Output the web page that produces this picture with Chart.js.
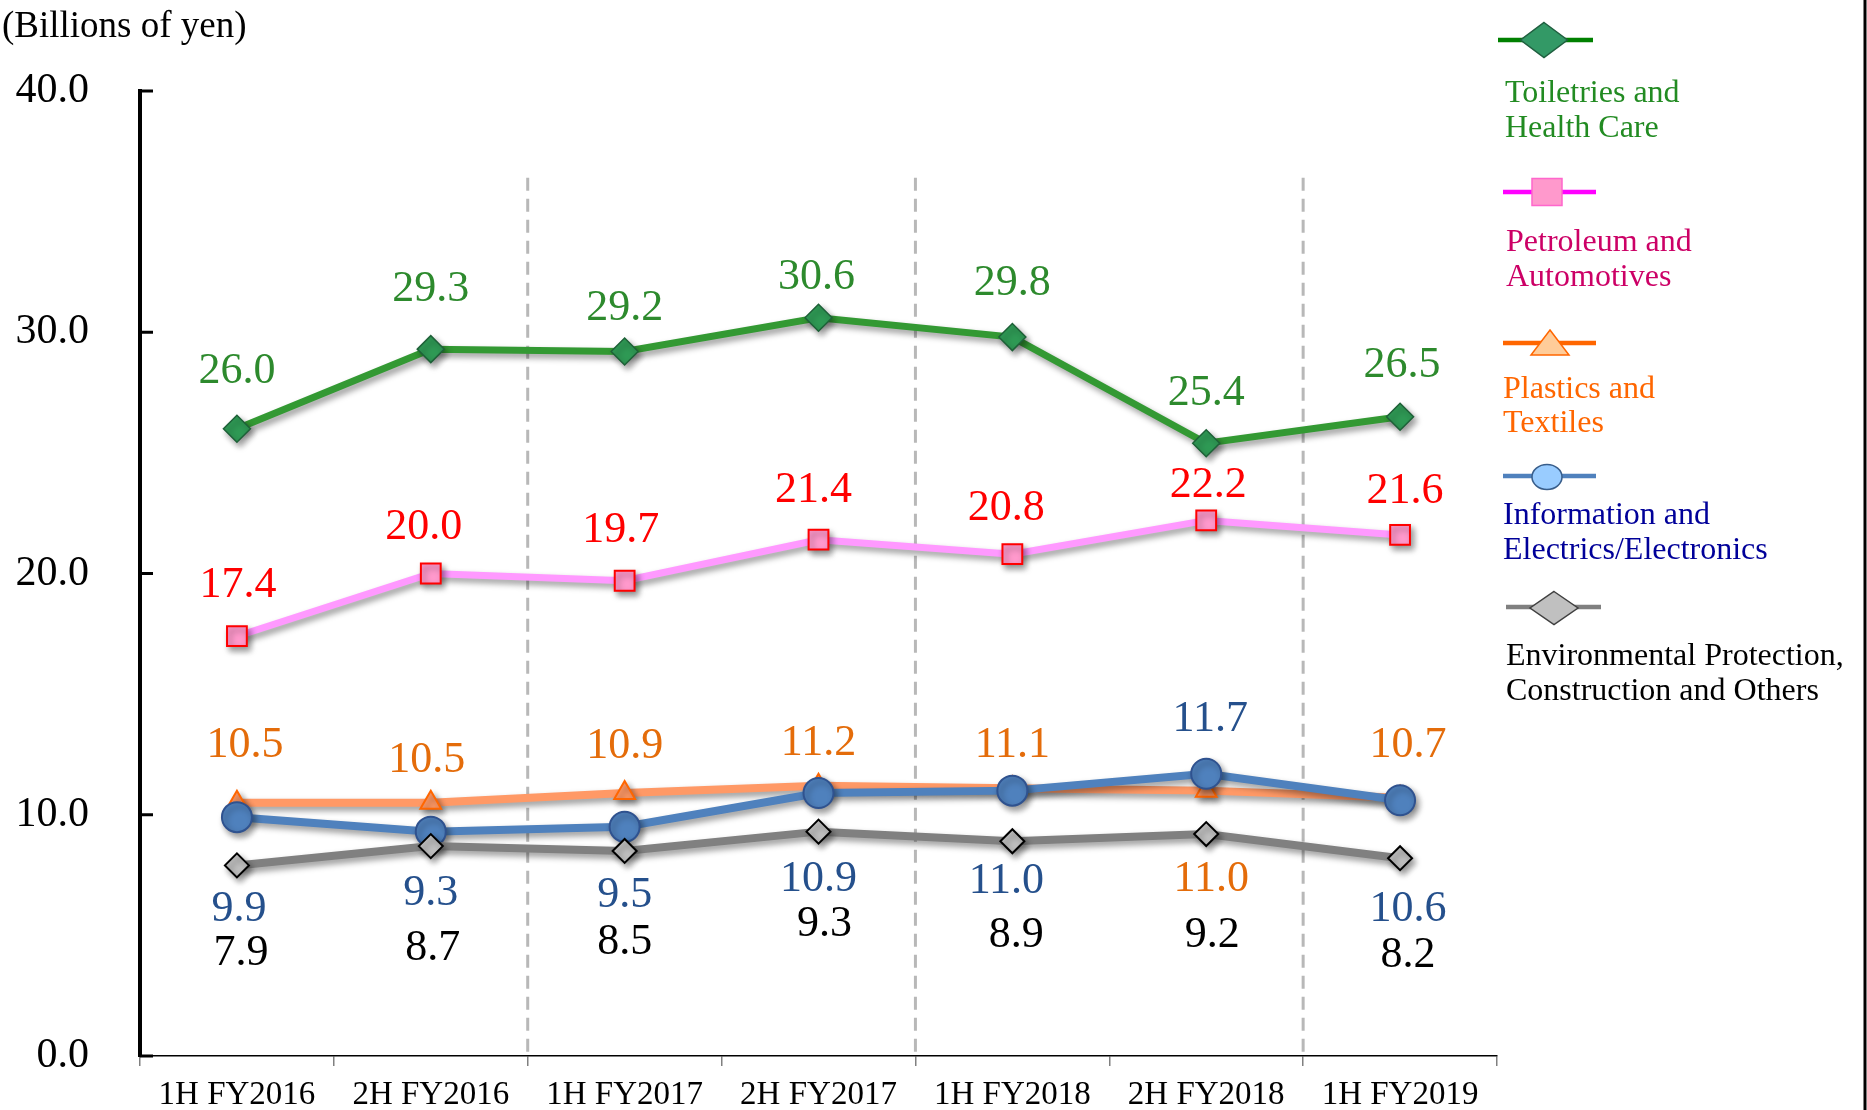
<!DOCTYPE html>
<html><head><meta charset="utf-8">
<script src="https://cdn.jsdelivr.net/npm/chart.js@4/dist/chart.umd.min.js"></script>
<style>html,body{margin:0;padding:0;background:#fff;}#wrap{width:1867px;height:1110px;position:relative;}</style>
</head><body><div id="wrap"><canvas id="c" width="1867" height="1110"></canvas></div>
<script>
// ---- data ----
const categories = ['1H FY2016','2H FY2016','1H FY2017','2H FY2017','1H FY2018','2H FY2018','1H FY2019'];
const toiletries    = [26.0, 29.3, 29.2, 30.6, 29.8, 25.4, 26.5];
const petroleum     = [17.4, 20.0, 19.7, 21.4, 20.8, 22.2, 21.6];
const plastics      = [10.5, 10.5, 10.9, 11.2, 11.1, 11.0, 10.7];
const information   = [9.9, 9.3, 9.5, 10.9, 11.0, 11.7, 10.6];
const environmental = [7.9, 8.7, 8.5, 9.3, 8.9, 9.2, 8.2];
const yTicks = [0, 10, 20, 30, 40];
const seriesLabels = ['Toiletries and\nHealth Care','Petroleum and\nAutomotives','Plastics and\nTextiles','Information and\nElectrics/Electronics','Environmental Protection,\nConstruction and Others'];
const unitLabel = '(Billions of yen)';
const dividersAfter = [1, 3, 5];

// ---- layout / style (not data) ----
const FONT = "'Liberation Serif','Times New Roman',serif";
const labelDy = [
  [-57,-60,-43,-40,-54,-50,-51],
  [-51,-46,-50,-49,-46,-35,-43],
  [-57,-42,-47,-42,-43, 89,-52],
  [ 92, 62, 69, 86, 91,-54,109],
  [ 88,102, 91, 93, 94,101, 97]
];
const labelDx = [
  [0,0,0,-2,0,0,2],
  [1,-7,-4,-5,-6,2,5],
  [8,-4,0,0,0,5,8],
  [2,0,0,0,-6,4,8],
  [4,2,0,6,4,6,8]
];
const labelColors = ['#2d8a2d','#ff0000','#e46c0a','#25508c','#000000'];
const legendStyle = [
  {line:'#008000', lx:[1498,1593], ly:40, shape:'diamond', cx:1544, cy:40, w:47, h:35, fill:'#339966', stroke:'#1f5f3f', text:'#228b22', tx:1505, ty:[94,129]},
  {line:'#ff00ff', lx:[1503,1596], ly:192, shape:'rect', cx:1547, cy:192, w:30, h:27, fill:'#ff99cc', stroke:'#ff66cc', text:'#cc0066', tx:1506, ty:[243,278]},
  {line:'#ff6600', lx:[1503,1596], ly:343, shape:'triangle', cx:1550, cy:343, w:38, h:25, fill:'#ffcc99', stroke:'#ff6600', text:'#ff6600', tx:1503, ty:[390,424]},
  {line:'#4f81bd', lx:[1503,1596], ly:476, shape:'ellipse', cx:1547, cy:477, w:30, h:25, fill:'#99ccff', stroke:'#385d8a', text:'#000099', tx:1503, ty:[516,551]},
  {line:'#808080', lx:[1506,1601], ly:607, shape:'diamond', cx:1554, cy:608, w:48, h:33, fill:'#c0c0c0', stroke:'#404040', text:'#000000', tx:1506, ty:[657,692]}
];

const shadowPlugin = {
  id:'shadow',
  beforeDatasetDraw(chart){ const c=chart.ctx; c.save(); c.shadowColor='rgba(0,0,0,0.4)'; c.shadowBlur=6; c.shadowOffsetX=3; c.shadowOffsetY=4; },
  afterDatasetDraw(chart){ chart.ctx.restore(); }
};

const decoPlugin = {
  id:'deco',
  beforeDatasetsDraw(chart){
    const c = chart.ctx, xs = chart.scales.x, ys = chart.scales.y;
    c.save();
    c.strokeStyle = '#b8b8b8'; c.lineWidth = 3; c.setLineDash([13,8]);
    dividersAfter.forEach(i => {
      const x = (xs.getPixelForValue(i) + xs.getPixelForValue(i+1)) / 2;
      c.beginPath(); c.moveTo(x, ys.getPixelForValue(36.4)); c.lineTo(x, ys.getPixelForValue(0)); c.stroke();
    });
    c.restore();
  },
  afterDatasetsDraw(chart){
    const c = chart.ctx;
    c.save();
    c.font = '44px ' + FONT; c.textAlign = 'center'; c.textBaseline = 'middle';
    chart.data.datasets.forEach((ds, di) => {
      const meta = chart.getDatasetMeta(di);
      c.fillStyle = labelColors[di];
      meta.data.forEach((pt, i) => {
        c.fillText(ds.data[i].toFixed(1), pt.x + labelDx[di][i], pt.y + labelDy[di][i]);
      });
    });
    c.restore();
  },
  afterDraw(chart){
    const c = chart.ctx, ys = chart.scales.y, left = chart.chartArea.left;
    c.save();
    c.strokeStyle = '#000'; c.lineWidth = 3;
    yTicks.forEach(v => { const y = ys.getPixelForValue(v); c.beginPath(); c.moveTo(left, y); c.lineTo(left + 13, y); c.stroke(); });
    c.fillStyle = '#000'; c.font = '37px ' + FONT; c.textAlign = 'left'; c.textBaseline = 'middle';
    c.fillText(unitLabel, 2, 27);
    legendStyle.forEach((s, i) => {
      c.strokeStyle = s.line; c.lineWidth = 4.5;
      c.beginPath(); c.moveTo(s.lx[0], s.ly); c.lineTo(s.lx[1], s.ly); c.stroke();
      c.beginPath();
      const hw = s.w/2, hh = s.h/2;
      if (s.shape === 'diamond') { c.moveTo(s.cx, s.cy-hh); c.lineTo(s.cx+hw, s.cy); c.lineTo(s.cx, s.cy+hh); c.lineTo(s.cx-hw, s.cy); c.closePath(); }
      else if (s.shape === 'rect') { c.rect(s.cx-hw, s.cy-hh, s.w, s.h); }
      else if (s.shape === 'triangle') { c.moveTo(s.cx, s.cy-13); c.lineTo(s.cx+hw, s.cy+12); c.lineTo(s.cx-hw, s.cy+12); c.closePath(); }
      else { c.ellipse(s.cx, s.cy, hw, hh, 0, 0, Math.PI*2); }
      c.fillStyle = s.fill; c.fill(); c.strokeStyle = s.stroke; c.lineWidth = 1.5; c.stroke();
      c.fillStyle = s.text; c.font = '32px ' + FONT; c.textAlign = 'left'; c.textBaseline = 'middle';
      seriesLabels[i].split('\n').forEach((t, k) => c.fillText(t, s.tx, s.ty[k]));
    });
    c.strokeStyle = '#000'; c.lineWidth = 3;
    c.beginPath(); c.moveTo(1865, 0); c.lineTo(1865, 1110); c.stroke();
    c.restore();
  }
};

new Chart(document.getElementById('c'), {
  type: 'line',
  data: {
    labels: categories,
    datasets: [
      {label: seriesLabels[0], data: toiletries, borderColor:'#339933', borderWidth:7, pointStyle:'rectRot', pointRadius:13.5, pointBackgroundColor:'#2f9a55', pointBorderColor:'#1e6138', pointBorderWidth:1.5, order:1},
      {label: seriesLabels[1], data: petroleum, borderColor:'#ff99ff', borderWidth:7, pointStyle:'rect', pointRadius:14, pointBackgroundColor:'#ff99cc', pointBorderColor:'#ff0000', pointBorderWidth:2, order:2},
      {label: seriesLabels[2], data: plastics, borderColor:'#ff9966', borderWidth:8, pointStyle:'triangle', pointRadius:12, pointBackgroundColor:'#ff9966', pointBorderColor:'#ff6600', pointBorderWidth:2, order:5},
      {label: seriesLabels[3], data: information, borderColor:'#4f81bd', borderWidth:8, pointStyle:'circle', pointRadius:15, pointBackgroundColor:'#4f81bd', pointBorderColor:'#2f528f', pointBorderWidth:2, order:4},
      {label: seriesLabels[4], data: environmental, borderColor:'#808080', borderWidth:8, pointStyle:'rectRot', pointRadius:12, pointBackgroundColor:'#c0c0c0', pointBorderColor:'#000000', pointBorderWidth:2, order:3}
    ]
  },
  options: {
    responsive:false, animation:false, devicePixelRatio:1,
    layout:{padding:{top:91, right:370, bottom:0, left:0}},
    plugins:{legend:{display:false}, tooltip:{enabled:false}},
    elements:{line:{tension:0, fill:false}},
    scales:{
      x:{
        offset:true,
        grid:{offset:true, drawOnChartArea:false, drawTicks:true, tickLength:10, color:'#808080', lineWidth:1.5},
        border:{display:true, color:'#000', width:1.5},
        ticks:{color:'#000', font:{family:FONT, size:33}, padding:10, maxRotation:0, autoSkip:false},
        afterFit(s){ s.height = 54; s.paddingLeft = 0; s.paddingRight = 0; }
      },
      y:{
        min:0, max:40,
        afterBuildTicks(s){ s.ticks = yTicks.map(v => ({value:v})); },
        grid:{display:false, drawTicks:false},
        border:{display:true, color:'#000', width:4},
        ticks:{color:'#000', font:{family:FONT, size:42}, padding:51, callback:v => Number(v).toFixed(1)},
        afterFit(s){ s.width = 140; s.paddingTop = 0; s.paddingBottom = 0; }
      }
    }
  },
  plugins:[shadowPlugin, decoPlugin]
});
</script></body></html>
